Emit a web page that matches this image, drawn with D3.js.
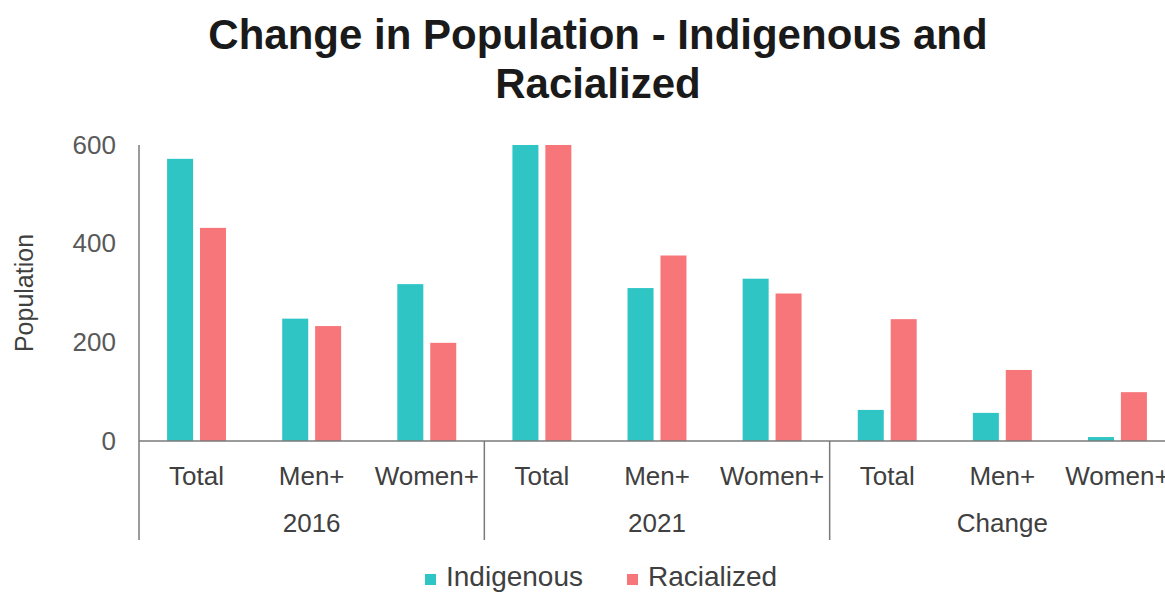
<!DOCTYPE html>
<html>
<head>
<meta charset="utf-8">
<script src="https://cdn.jsdelivr.net/npm/d3@7"></script>
<style>
  html, body { margin: 0; padding: 0; background: #fff; }
  svg { display: block; font-family: "Liberation Sans", Arial, sans-serif; }
</style>
</head>
<body>
<svg id="chart" width="1165" height="592"></svg>
<script>
// ---- data ----
const groups = ["2016", "2021", "Change"];
const subCategories = ["Total", "Men+", "Women+"];
const seriesNames = ["Indigenous", "Racialized"];
const indigenous = [572, 248, 318, 635, 310, 329, 63, 57, 8];
const racialized = [432, 233, 199, 679, 376, 299, 247, 144, 99];
const yTicks = [0, 200, 400, 600];
const colors = ["#30C5C5", "#F7767A"];

(function () {
// ---- build rows ----
const rows = [];
groups.forEach((g, gi) => subCategories.forEach((c, ci) => {
  const i = gi * subCategories.length + ci;
  rows.push({ key: g + "|" + c, group: g, cat: c, values: [indigenous[i], racialized[i]] });
}));

const svg = d3.select("#chart");
const pLeft = 139, pRight = 1175, pTop = 145, pBottom = 441;

const x0 = d3.scaleBand().domain(rows.map(d => d.key)).range([pLeft, pRight]).padding(0);
const bw = x0.bandwidth();
const x1 = d3.scaleBand().domain(seriesNames).range([bw * 0.244, bw * 0.756]).paddingInner(0.21);
const y = d3.scaleLinear().domain([0, 600]).range([pBottom, pTop]).clamp(true);
const gx = d3.scaleBand().domain(groups).range([pLeft, pRight]);

// bars
const barG = svg.append("g");
rows.forEach(r => {
  barG.selectAll(null)
    .data(seriesNames.map((s, si) => ({ s, v: r.values[si], c: colors[si] })))
    .enter().append("rect")
    .attr("x", d => x0(r.key) + x1(d.s))
    .attr("width", x1.bandwidth())
    .attr("y", d => y(d.v))
    .attr("height", d => y(0) - y(d.v))
    .attr("fill", d => d.c);
});

// y axis
const yAxis = d3.axisLeft(y).tickValues(yTicks).tickSize(0).tickPadding(23).tickFormat(d3.format("d"));
const ya = svg.append("g").attr("transform", `translate(${pLeft},0)`).call(yAxis);
ya.select(".domain").remove();
ya.selectAll("text").attr("font-size", 26).attr("fill", "#595959")
  .attr("font-family", "Liberation Sans, Arial, sans-serif");

const axisColor = "#7a7a7a";
svg.append("line").attr("x1", pLeft).attr("x2", pLeft).attr("y1", pTop).attr("y2", 540)
  .attr("stroke", axisColor).attr("stroke-width", 1.5);
svg.append("line").attr("x1", pLeft).attr("x2", 1165).attr("y1", y(0)).attr("y2", y(0))
  .attr("stroke", axisColor).attr("stroke-width", 1.5);
groups.slice(1).forEach(g => {
  svg.append("line").attr("x1", gx(g)).attr("x2", gx(g)).attr("y1", y(0)).attr("y2", 540)
    .attr("stroke", axisColor).attr("stroke-width", 1.5);
});

// category labels
const xAxis = d3.axisBottom(x0).tickSize(0).tickPadding(0).tickFormat(k => k.split("|")[1]);
const xa = svg.append("g").attr("transform", `translate(0,${pBottom})`).call(xAxis);
xa.select(".domain").remove();
xa.selectAll("text").attr("font-size", 26).attr("fill", "#404040")
  .attr("font-family", "Liberation Sans, Arial, sans-serif")
  .attr("dy", null).attr("y", 44);

// group labels
svg.append("g").selectAll("text").data(groups).enter().append("text")
  .attr("x", g => gx(g) + gx.bandwidth() / 2)
  .attr("y", 532)
  .attr("text-anchor", "middle")
  .attr("font-size", 26).attr("fill", "#404040")
  .text(g => g);

// y axis title
svg.append("text")
  .attr("transform", `translate(33,${(pTop + pBottom) / 2}) rotate(-90)`)
  .attr("text-anchor", "middle")
  .attr("font-size", 25).attr("fill", "#404040")
  .text("Population");

// title
const title = svg.append("text").attr("text-anchor", "middle").attr("font-weight", "bold")
  .attr("font-size", 42).attr("fill", "#1a1a1a");
title.append("tspan").attr("x", 598).attr("y", 49).text("Change in Population - Indigenous and");
title.append("tspan").attr("x", 598).attr("y", 98).text("Racialized");

// legend
const legendItems = [
  { name: seriesNames[0], color: colors[0], x: 425 },
  { name: seriesNames[1], color: colors[1], x: 627 }
];
const lg = svg.append("g");
legendItems.forEach(it => {
  lg.append("rect").attr("x", it.x).attr("y", 574).attr("width", 11).attr("height", 11).attr("fill", it.color);
  lg.append("text").attr("x", it.x + 21).attr("y", 586).attr("font-size", 28).attr("fill", "#404040").text(it.name);
});
})();
</script>
</body>
</html>
